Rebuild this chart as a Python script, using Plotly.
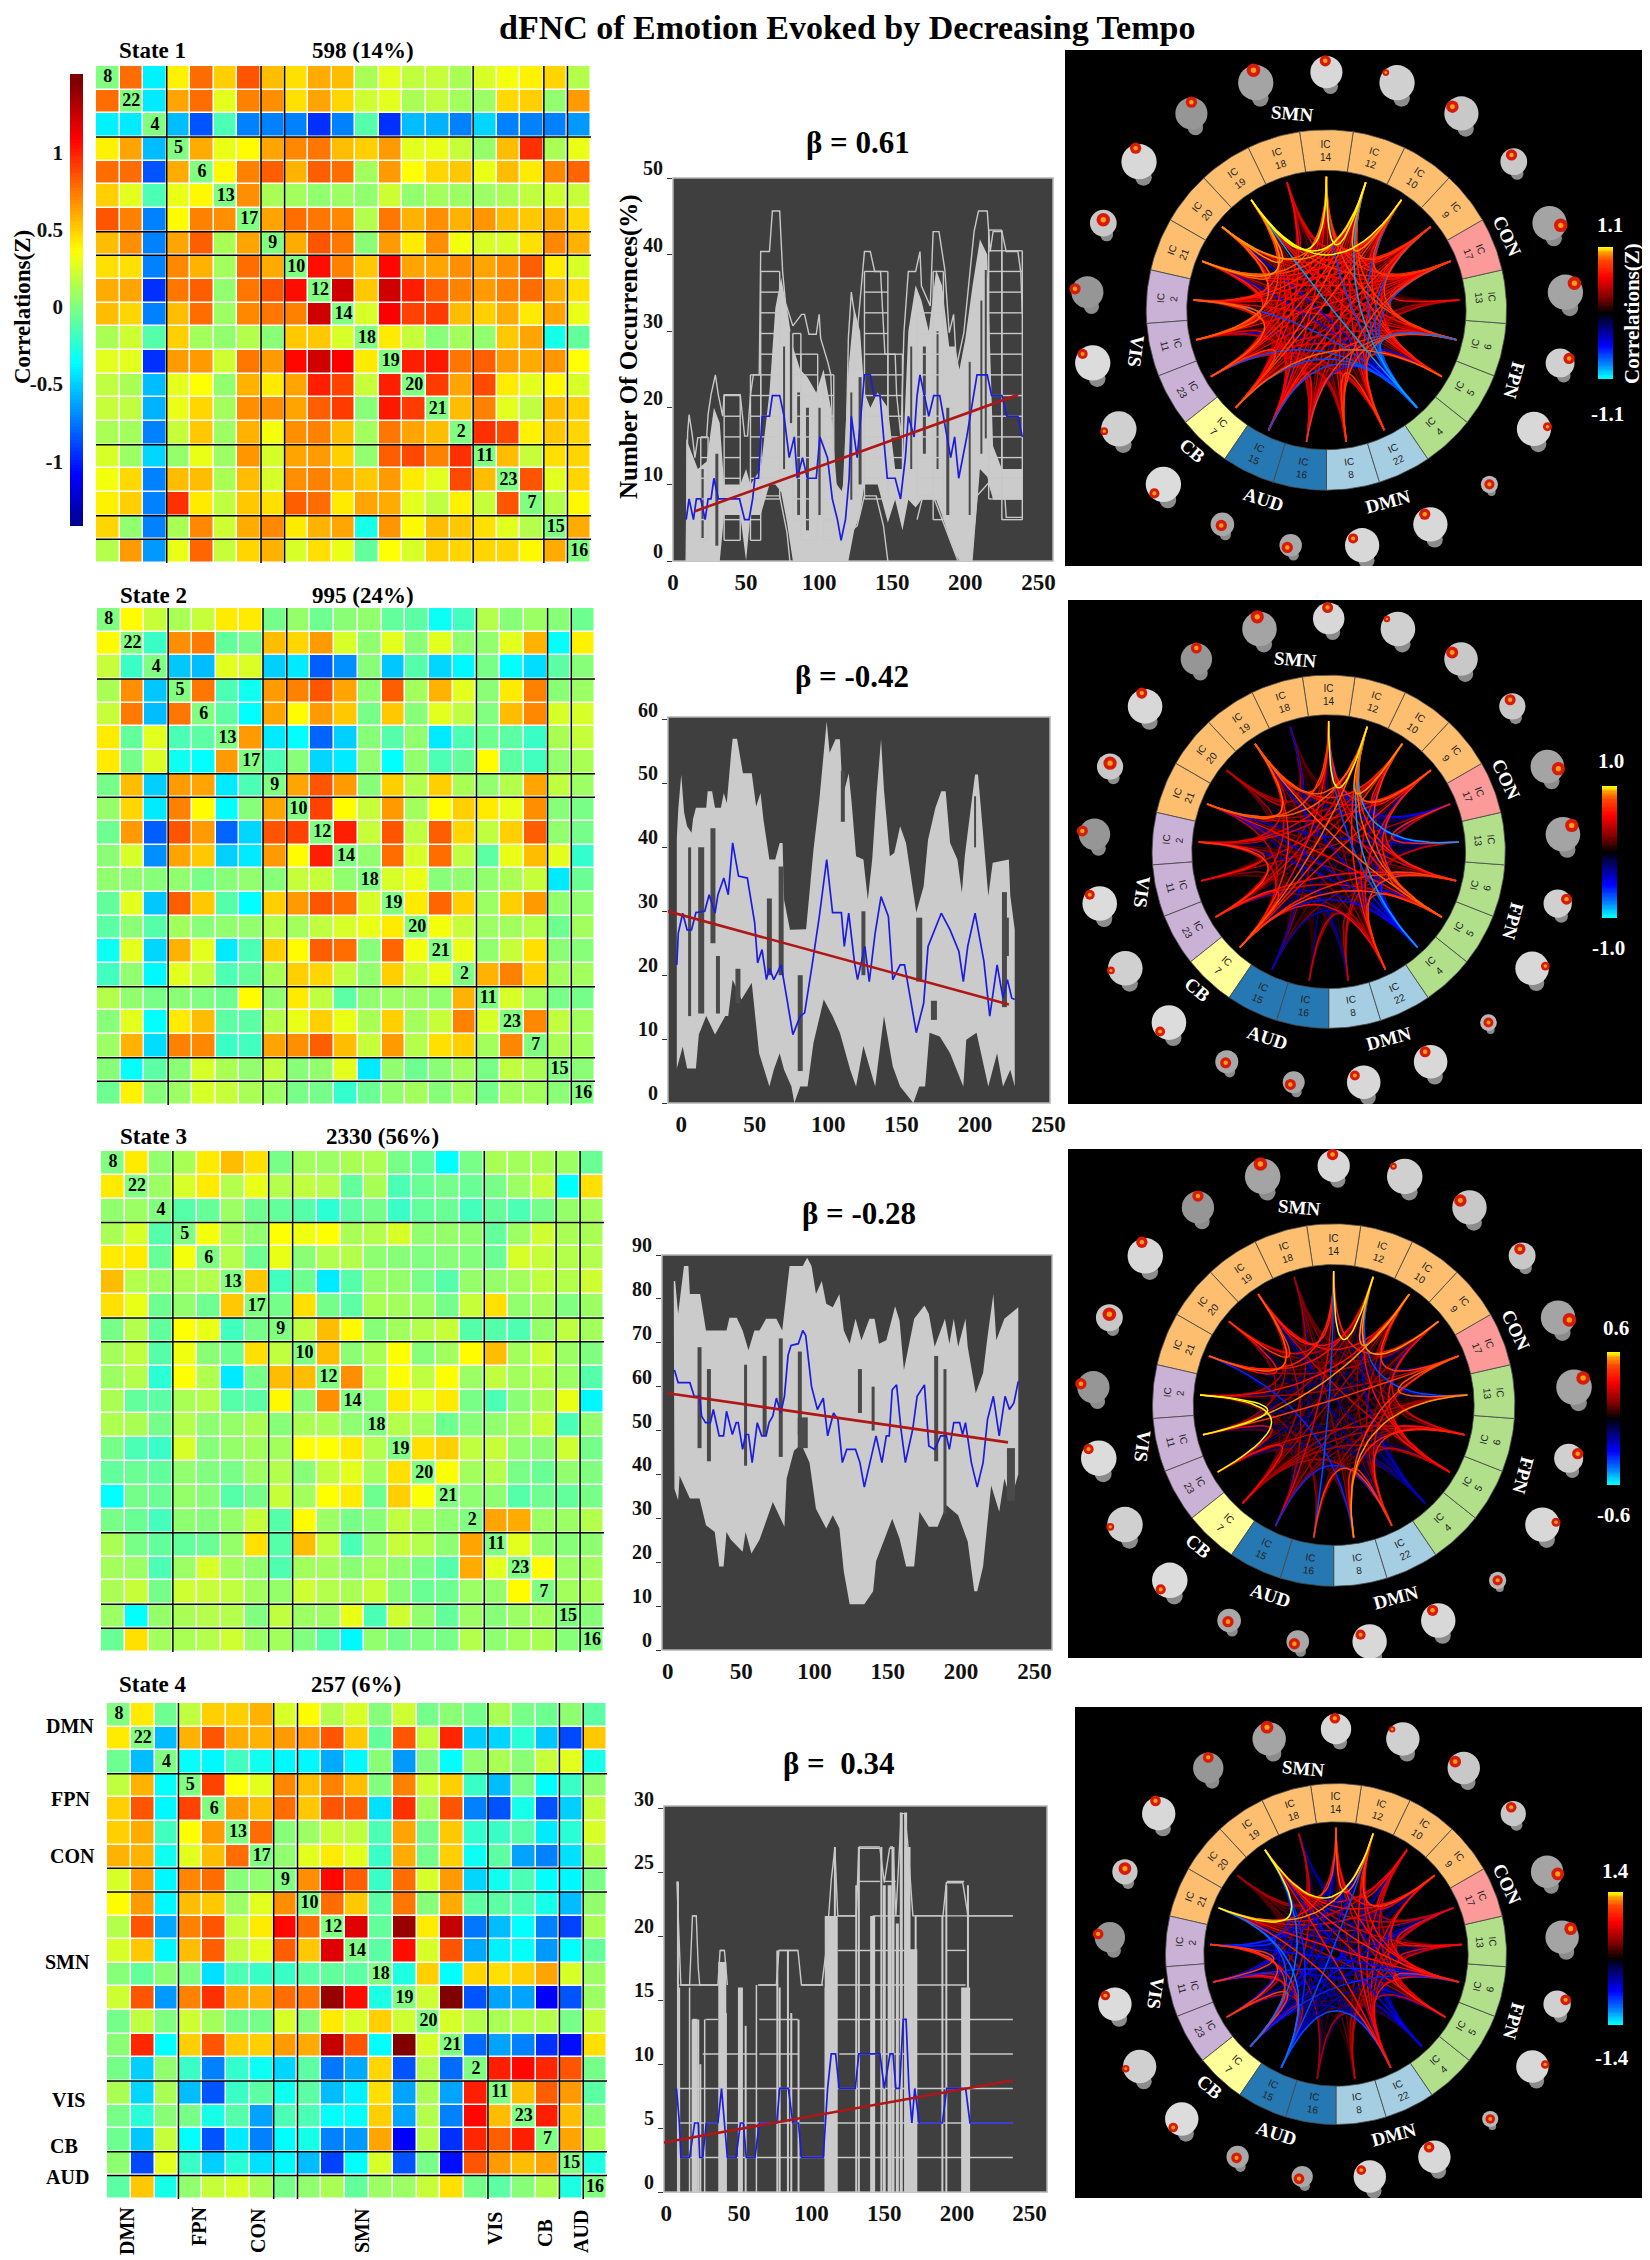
# -*- coding: utf-8 -*-
"""
dFNC of emotion evoked by decreasing tempo: four states, each with a
correlation matrix, an occurrence plot and a connectogram.
"""
import numpy as np
import plotly.graph_objects as go

W, H = 1650, 2260
PAGE_MARGIN = 8  # margen del body en la pagina que escribe plotly
FIG_W, FIG_H = W - PAGE_MARGIN, H - PAGE_MARGIN
SERIF = 'Liberation Serif'

# ---------------------------------------------------------------------------
# Data: components and networks
# ---------------------------------------------------------------------------
IC_ORDER = [8, 22, 4, 5, 6, 13, 17, 9, 10, 12, 14, 18, 19, 20, 21, 2, 11, 23, 7, 15, 16]
IC_NETWORK = ['DMN', 'DMN', 'FPN', 'FPN', 'FPN', 'FPN', 'CON', 'SMN', 'SMN', 'SMN', 'SMN',
              'SMN', 'SMN', 'SMN', 'SMN', 'VIS', 'VIS', 'VIS', 'CB', 'AUD', 'AUD']
NETWORK_COLORS = {'DMN': '#a6cee3', 'FPN': '#b2df8a', 'CON': '#fb9a99', 'SMN': '#fdbf6f',
                  'VIS': '#cab2d6', 'CB': '#ffff99', 'AUD': '#2678b2'}
GROUP_BREAKS = [2, 6, 7, 15, 18, 19]

# correlation values, upper triangle, one list per row
STATE1_UPPER = [
    [.78, -.4, .4, .78, .5, .85, .55, .45, .6, .55, .12, .28, .18, .2, .12, .25, .33, .4, .48, .15],
    [-.42, .62, .78, .28, .72, .68, .45, .62, .48, .22, .28, .12, .18, .1, .08, .47, .5, .05, .65],
    [-.55, -.85, -.15, -.72, -.72, -.72, -.95, -.72, -.12, -.95, -.55, -.58, -.72, -.48, -.72, -.72, -.72, -.65],
    [.6, .3, .37, .62, .7, .75, .55, .5, .65, .28, .3, .2, .06, .55, .95, .12, .3],
    [.38, .72, .82, .58, .82, .78, .1, .65, .36, .48, .52, .3, .55, .42, .7, .8],
    [.68, .12, .1, .05, .08, .05, .22, .05, .1, .08, .08, .12, .18, .22, .2],
    [.62, .78, .75, .7, .15, .75, .58, .68, .58, .66, .55, .52, .6, .48],
    [.6, .85, .75, .03, .65, .42, .68, .33, .25, .25, .45, .7, .58],
    [1.05, .72, .52, 1.07, .62, .62, .68, .62, .68, .82, .42, .25],
    [1.22, .52, 1.22, 1.0, .82, .72, .65, .72, .78, .58, .45],
    [.25, 1.1, .9, .92, .55, .5, .6, .42, .62, .3],
    [.42, .2, .02, .1, .05, .52, .62, -.3, -.08],
    [1.0, 1.02, .75, .82, .65, .6, .66, .36],
    [.92, .62, .88, .42, .28, .38, .25],
    [.55, .72, .28, .18, .55, .5],
    [.95, .88, .4, .52, .48],
    [.55, .2, .45, .48],
    [.85, .28, .48],
    [.15, .38],
    [.6],
]
STATE2_UPPER = [
    [.37, .2, .12, .2, .42, .42, -.03, .06, -.05, .03, .05, -.08, -.1, -.33, -.18, .15, .02, .08, .02, -.05],
    [-.2, .68, .74, -.08, -.03, .55, .48, .65, .25, .05, .28, .03, .28, .05, .05, .28, .58, -.35, .4],
    [-.52, -.55, .28, .26, -.5, -.42, -.82, -.68, .02, -.52, -.12, -.48, -.38, -.02, -.36, -.46, -.1, .02],
    [.75, -.15, -.32, .65, .72, .85, .62, .05, .82, .1, .58, .28, .03, .42, .72, .03, .08],
    [-.1, -.36, .62, .37, .65, .52, -.02, .52, .02, .28, .18, 0, .55, .7, .25, .25],
    [.65, -.42, -.36, -.8, -.5, .02, -.12, .05, -.42, -.15, -.05, -.1, -.2, .12, .2],
    [-.15, .02, -.48, -.42, .05, -.36, .05, -.15, -.08, .37, -.1, -.18, .05, .12],
    [.62, .85, .65, .02, .5, .15, .5, .12, .05, .15, .62, .18, .08],
    [.9, .37, .2, .65, .1, .37, .5, .42, .3, .68, .02, -.02],
    [1.0, .2, .85, .18, .82, .48, .18, .5, .82, .05, -.03],
    [.05, .78, .25, .78, .18, -.1, .3, .55, .28, -.22],
    [.25, .3, .02, .05, .05, .12, .2, -.42, -.06],
    [.42, .8, .5, .08, .5, .65, .05, .05],
    [.33, .2, .08, .1, .15, -.05, .1],
    [.3, .05, .2, .45, .03, .02],
    [.58, .72, .5, .1, .1],
    [.25, .1, -.02, -.03],
    [.7, .18, .1],
    [.12, .1],
    [.03],
]
STATE3_UPPER = [
    [.42, .05, .12, .42, .55, .45, -.02, .1, .08, .12, .13, -.02, -.08, -.36, -.02, .12, .1, .12, .08, -.06],
    [.08, .25, .42, .15, .3, .15, .18, .15, -.08, .12, -.15, -.06, -.03, -.06, -.02, .08, .2, -.36, .45],
    [-.12, -.07, .08, -.05, -.08, -.12, -.24, -.1, -.03, -.2, -.08, -.06, -.17, -.08, -.15, -.03, .06, .1],
    [.33, .12, .05, .36, .32, .36, .12, .15, .25, .05, .06, .04, -.08, .08, .22, .12, .12],
    [.15, -.05, .3, .03, .14, .15, .04, .02, 0, .02, .01, -.06, .25, .2, .15, .15],
    [.52, -.18, -.05, -.42, -.12, .06, .06, -.02, -.12, .06, .06, .1, .18, .15, .22],
    [-.03, .45, -.03, -.1, .12, .1, .08, -.03, .2, .45, .05, .1, 0, .08],
    [.18, .55, .38, .02, .1, .15, .2, -.12, -.12, -.14, .06, .18, .1],
    [.55, .03, .12, .36, .02, .1, .37, .55, .1, .22, .08, 0],
    [.68, .12, .36, .18, .36, .08, .18, .1, .15, .08, -.12],
    [.04, .42, .28, .42, -.02, -.15, .03, .12, .3, -.38],
    [.15, .1, -.05, .02, .05, .1, .2, -.15, .05],
    [.45, .5, .18, .2, .05, .03, .22, -.03],
    [.35, .1, .15, -.02, -.06, .05, 0],
    [.04, .04, -.12, -.05, -.08, -.02],
    [.62, .6, .08, .08, .15],
    [.28, .06, .02, .04],
    [.37, .08, .1],
    [.1, .12],
    [.02],
]
STATE4_UPPER = [
    [.42, -.05, .18, .5, .5, .58, .25, .37, .15, .25, .02, .22, -.03, .03, -.03, .12, -.02, -.05, .04, -.1],
    [-.55, .58, .85, .6, .58, .65, .65, .85, .52, -.08, .85, .18, .98, -.5, -.48, -.25, -.52, -.88, .52],
    [-.35, -.38, -.18, -.32, -.38, -.38, -.6, -.38, .03, -.65, 0, -.36, .05, .12, .03, .2, .28, -.3],
    [.9, .36, .28, .7, .55, .72, .55, 0, .72, .22, .5, -.2, -.55, -.02, -.36, -.2, .05],
    [.65, .55, .78, .52, .85, .82, -.45, .95, .1, .85, -.72, -.85, -.3, -.85, -.5, .2],
    [.78, .02, .08, .2, .18, -.15, .62, -.03, .52, -.22, -.2, -.12, -.42, -.25, .25],
    [.05, .28, .42, .28, -.2, .6, -.03, .5, -.33, -.1, -.62, -.72, -.45, .12],
    [.68, 1.07, .82, -.2, .78, .25, .65, -.48, -.32, -.15, -.36, -.38, -.02],
    [.78, .52, -.1, .75, .02, .6, -.1, -.1, -.15, -.3, -.55, .05],
    [1.18, -.08, 1.38, .42, 1.25, -.75, -.55, -.36, -.72, -.9, .12],
    [-.1, 1.05, .25, .85, -.6, -.4, -.35, -.65, -.36, -.08],
    [-.28, .5, -.36, .48, .45, .5, .62, .25, .08],
    [.22, 1.45, -.85, -.62, -.62, -1.1, -.85, .08],
    [.25, .15, .12, .15, .15, -.02, .2],
    [-.78, -.62, -.72, -.95, -1.05, .45],
    [1.0, 1.07, .98, .85, -.03],
    [.55, .82, .65, -.1],
    [1.0, .55, .02],
    [.62, .12],
    [-.28],
]

# ---------------------------------------------------------------------------
# Data: occurrence plots (mean, trend, envelope of the subject lines)
# ---------------------------------------------------------------------------
P1_BLUE_X = [9, 11, 14, 16, 19, 22, 24, 26, 28, 31, 45.5, 49, 52, 54.5, 56, 58.5, 61, 66, 68, 73, 76, 79.5, 83, 85,
             88.6, 92, 98, 100.5, 105.7, 109, 112.5, 115, 118, 120.5, 122, 124, 126, 131, 135, 137.5, 141.6, 146.6,
             152, 155.7, 159, 161, 165, 167, 169, 175, 178.4, 182.5, 187.5, 190, 192.7, 195.5, 201, 208, 215, 218,
             225, 228.4, 236, 239]
P1_BLUE_Y = [5.4, 8.1, 5.4, 8.1, 8.1, 5.4, 8.1, 8.1, 10.8, 8.1, 8.1, 5.4, 5.4, 8.1, 10.8, 10.8, 18.9, 18.9, 21.6, 21.6,
             18.9, 13.5, 16.2, 10.8, 13.5, 10.8, 10.8, 16.2, 13.5, 8.1, 5.4, 2.7, 5.4, 10.8, 18.9, 16.2, 13.5, 24.3,
             24.3, 21.6, 21.6, 10.8, 10.8, 8.1, 13.5, 18.9, 16.2, 21.6, 24.3, 18.9, 21.6, 21.6, 16.2, 13.5, 16.2,
             10.8, 16.2, 24.3, 24.3, 21.6, 21.6, 18.9, 18.9, 16.2]
P1_TREND_X, P1_TREND_Y = [15, 236], [6.5, 21.7]
P1_TOP_X = [9, 10, 11, 13, 15, 17, 23, 24, 26, 29, 31, 34, 35, 46, 49, 51, 53, 55, 59, 60, 66, 68, 73, 75, 77, 82, 88,
            90, 93, 98, 100, 101, 106, 108, 110, 115, 118, 120, 122, 124, 126, 131, 135, 138, 142, 145, 152, 153, 156,
            158, 161, 166, 169, 170, 176, 178, 182, 186, 189, 192, 194, 199, 206, 209, 215, 217, 219, 225, 228, 236,
            238, 239]
P1_TOP_Y = [0, 16.7, 19.1, 16.7, 13.5, 16.1, 16.1, 19.1, 21.7, 24.3, 21.7, 18.9, 21.7, 21.7, 16.3, 16.3, 21.7, 24.3,
            24.3, 40.4, 40.4, 45.7, 45.7, 37.8, 33.7, 30.7, 32.2, 32.2, 29.6, 29.6, 32.2, 29.1, 25.9, 24.3, 10.7, 8.5,
            10.7, 29.1, 35.1, 32.4, 29.8, 40.4, 40.4, 37.8, 37.8, 27, 27, 21.7, 16.1, 29.8, 37.8, 37.8, 40.4, 35.9,
            33.3, 43, 43, 38, 29.8, 32.2, 25.4, 29.8, 43, 45.7, 45.7, 40.4, 43, 43, 40.4, 40.4, 37.6, 32.2]
P1_LOW_X = [60, 66, 73, 78, 80, None, 120, 126, 131, 139, 144, 147, None, 167, 171, 178, 186, 189, 195, None, 204,
            208, 216, 219, 227, 228, 239]
P1_LOW_Y = [8.5, 8.5, 8.5, 3.7, 0, None, 3.7, 4.6, 8.5, 8.5, 4.6, 0, None, 5.4, 8.5, 8.5, 4.6, 3, 0, None, 0, 8.5,
            10.2, 8.5, 8.5, 5.7, 5.7]
# part of the band where the subject lines merge into solid grey
P1_CORE_X = [9, 13, 17, 23, 28, 32, 35, 46, 50, 53, 60, 66, 70, 74, 78, 82, 87, 92, 98, 103, 108, 112, 116, 120, 124,
             128, 131, 135, 140, 147, 152, 157, 161, 166, 170, 175, 180, 184, 189, 193, 196, 200, 205, 210, 215, 219,
             225, 239]
P1_CORE_HI = [16, 14, 12, 13, 20, 18, 10, 10, 12, 10, 12, 22, 33, 37, 33, 28, 25, 24, 22, 25, 20, 10, 9, 25, 33, 30,
              22, 20, 22, 20, 12, 12, 30, 36, 34, 30, 38, 36, 28, 28, 25, 29, 36, 42, 40, 15, 12, 12]
P1_CORE_LO = [0, 0, 0, 0, 0, 0, 6, 6, 0, 6, 6, 10, 10, 9, 5, 0, 0, 0, 0, 0, 0, 0, 0, 0, 4, 6, 10, 10, 10, 5, 8, 4, 8,
              7, 8, 8, 8, 6, 3, 1, 0, 0, 0, 12, 11, 8, 8, 8]
P1_DARK_X = [20, 30, 76, 81, 86, 92, 100, 122, 128, 163, 172, 181, 188, 203, 211, 214]
P1_DARK_LO = [3, 2, 12, 18, 6, 4, 6, 8, 10, 12, 14, 12, 6, 6, 14, 16]
P1_DARK_HI = [12, 14, 28, 30, 22, 20, 20, 22, 24, 28, 28, 30, 20, 26, 34, 38]
P1_DARK_W = [3, 3, 2, 3, 3, 3, 3, 2, 3, 2, 3, 2, 3, 2, 2, 2]
# x0, x1, lowest and highest level of the flat stretches
P1_ZONE_X0 = [19, 35, 53, 60, 82, 87.5, 103, 131, 147, 167, 178, 216, 225]
P1_ZONE_X1 = [24, 46, 60, 73, 87.5, 99, 110, 147, 157, 178, 185, 225, 239]
P1_ZONE_LO = [2.7, 2.7, 2.7, 8.1, 5.4, 2.7, 2.7, 8.1, 8.1, 8.1, 5.4, 8.1, 5.4]
P1_ZONE_HI = [16.2, 21.6, 24.3, 37.8, 29.7, 27, 24.3, 37.8, 27, 32.4, 37.8, 43.2, 40.5]

P2_BLUE_X = [-3, -2, 1, 4, 7, 10, 16, 19, 23, 25, 29, 32, 35, 39, 45, 50, 52, 55, 58, 60, 63, 68, 72, 76, 81, 84, 89,
             94, 99, 103, 109, 111, 114, 118, 120, 125, 128, 132, 136, 141, 144, 149, 152, 156, 160, 165, 168, 177,
             183, 189, 192, 195, 200, 206, 210, 215, 219, 222, 225, 227]
P2_BLUE_Y = [21.6, 26.6, 29.7, 27.1, 27.1, 29.8, 30, 32.6, 29.7, 32.6, 35.2, 32.6, 40.7, 35.5, 35.2, 28.2, 21.9, 24,
             19.3, 21.1, 19.3, 21.6, 16.2, 10.7, 13.6, 14.1, 21.4, 29.2, 38.1, 29.8, 29.8, 24.5, 29.7, 21.9, 19.3,
             24.5, 19, 26.6, 32.3, 29.2, 19.3, 21.6, 21.6, 16.4, 11, 15.6, 24.5, 29.7, 27.1, 23.7, 19, 24.5, 29.7,
             22.2, 13.6, 21.6, 16.4, 19.3, 16.4, 16.2]
P2_TREND_X, P2_TREND_Y = [-9, 223], [30, 15.4]
P2_TOP_X = [-3, -2, 0, 2, 4, 7, 8, 10, 17, 18, 21, 23, 27, 29, 31, 34, 35, 38, 42, 48, 51, 54, 56, 60, 64, 67, 69, 70,
            74, 85, 90, 94, 99, 101, 105, 108, 110, 114, 116, 119, 124, 127, 130, 133, 136, 138, 142, 145, 149, 153,
            158, 160, 165, 168, 173, 177, 180, 183, 188, 191, 193, 197, 200, 202, 206, 209, 212, 223, 224, 227]
P2_TOP_Y = [41.4, 46, 51.4, 45.4, 43.3, 42.3, 44.4, 46.2, 46.2, 48.8, 48.8, 46.2, 46.2, 48.5, 46.9, 54.8, 57, 57,
            51.6, 51.6, 46.4, 48.5, 44.3, 38.1, 38.1, 40.7, 40.7, 31.8, 27.1, 27.2, 39.6, 47.4, 59.7, 54.8, 56.9,
            56.9, 48, 51.6, 47, 38.6, 38.1, 31.8, 38.1, 48.5, 56.9, 49, 38.6, 39.1, 43.3, 40.7, 32.9, 29.8, 33.9,
            41.2, 46.2, 48.8, 48.8, 40.7, 38.1, 32.9, 38.6, 46, 51.4, 51.4, 40.7, 32.4, 37.6, 38.1, 32.4, 27.1]
P2_LOW_X = [-3, 1, 4, 10, 12, 17, 23, 30, 32, 35, 41, 48, 53, 60, 63, 67, 70, 75, 77, 81, 86, 90, 97, 103, 108, 115,
            119, 124, 132, 138, 144, 149, 158, 162, 166, 169, 176, 183, 192, 194, 201, 209, 215, 219, 224, 227]
P2_LOW_Y = [5.4, 8.8, 5.4, 5.4, 10.7, 13.6, 10.7, 13.6, 13.6, 19.3, 16.2, 18.8, 7.8, 2.6, 5.2, 7.8, 5.2, 2.6, 0, 2.6,
            2.6, 9.4, 16.2, 13.6, 11, 5.2, 2.6, 8.9, 2.6, 13.6, 5.7, 2.6, 0, 2.6, 2.6, 11, 10.4, 7.8, 2.6, 9.9, 11,
            2.6, 7.8, 2.6, 5.2, 2.6]
P2_DARK_X = [5.7, 13.6, 21.6, 25, 38.6, 60, 68, 81, 110, 124, 162, 172, 200, 220, 222]
P2_DARK_LO = [13.6, 14, 25, 14, 15.6, 20, 20, 5, 44, 20, 19, 13, 40, 15, 23]
P2_DARK_HI = [40, 40, 43, 23, 21, 32, 37, 20, 52, 30, 29, 16, 48, 33, 29]
P2_DARK_W = [3, 6, 5, 4, 5, 5, 5, 5, 4, 4, 6, 6, 2, 5, 3]

P3_BLUE_X = [4.5, 7, 15, 18, 21.6, 23, 25.7, 29, 31, 35, 38, 40, 44, 46.6, 48, 51, 53, 55, 57.5, 61, 64, 67, 69, 71.6,
             74, 77, 79.5, 82, 84, 89, 92, 94, 98, 102, 106, 109, 113, 116, 119, 122, 128, 131, 134, 139, 142, 146,
             149, 151, 153, 156, 159, 162, 167, 170, 175, 178, 182, 186, 190, 192, 195, 199, 201, 203, 207, 211, 215,
             218, 222, 226, 230, 233, 236, 239]
P3_BLUE_Y = [63.8, 60.9, 60.9, 57.8, 57.8, 53.3, 51.8, 51.8, 54.8, 48.8, 48.8, 54.4, 49.1, 51.8, 51.8, 45.7, 49.1,
             49.1, 42.7, 51.8, 48.8, 48.8, 51.8, 53.3, 57.4, 54, 57.8, 67.2, 69.4, 69.8, 72.8, 71.7, 60, 54.8, 57.4,
             48.8, 54, 52.5, 42.7, 45.7, 45.7, 42.7, 37.1, 44.2, 48.8, 42.7, 48.8, 48.8, 59.3, 60.4, 50.3, 42.7, 50.3,
             57.8, 60.4, 46.5, 45.7, 48.8, 48.8, 45.7, 51.8, 51.8, 49.1, 51.8, 42.7, 37.1, 42.7, 52.5, 57.8, 48.8,
             57.8, 54.8, 56.3, 61.2]
P3_TREND_X, P3_TREND_Y = [0, 232], [58.5, 47.3]
P3_TOP_X = [4, 5, 7, 11, 14, 15, 22, 26, 40, 42, 47, 51, 55, 59, 62.5, 67, 74, 78, 83, 92, 95, 98, 101, 105, 108, 112.5,
            117, 120, 124, 128, 132, 137.5, 141, 144, 149, 155, 158, 161, 168, 175, 178, 182, 189, 192, 195, 198, 203,
            204.5, 210, 215, 218, 222, 224, 229.5, 239, 239]
P3_TOP_Y = [84.1, 84.1, 76.6, 87.5, 87.5, 81.1, 81.1, 72.8, 72.8, 75.7, 75.7, 72.8, 68.3, 72.8, 72.8, 75.5, 75.5, 72.8,
            87.5, 87.5, 89.4, 87.5, 81.1, 84.1, 78.9, 78.1, 81.1, 72.8, 69.8, 75.5, 70.6, 75.5, 75.5, 69.8, 70.6, 78.3,
            75.1, 63.8, 75.5, 78.5, 76.6, 69.1, 75.5, 69.8, 75.5, 69.1, 75.5, 69.1, 58.5, 63.1, 71.3, 81.1, 70.6, 75.5,
            78.1, 87.5]
P3_LOW_X = [4.5, 7, 8, 15, 21.6, 26, 32, 35, 38, 40, 43, 51, 53, 57, 62.5, 71.6, 79.5, 81, 86, 91, 96.6, 101, 108, 112.5,
            117, 120, 124, 134, 140, 142, 153, 158, 162.5, 168, 171.6, 178, 184, 190, 198, 204.5, 209, 211, 215, 220.5,
            226, 229.5, 234, 239]
P3_LOW_Y = [36.7, 34.1, 39.7, 34.5, 34.5, 28.4, 26.9, 19, 19, 26.9, 25.1, 22.4, 26.9, 22, 25.1, 33.7, 28.1, 39, 45.4,
            46.9, 42.7, 32.2, 27.7, 30.7, 27.7, 17.9, 10.4, 10.4, 13.4, 20.2, 29.9, 25.4, 19, 19, 31.5, 28.1, 28.1, 33,
            30.7, 24.7, 13.4, 13.4, 19, 37.5, 31.5, 39, 34.1, 40.1]
P3_DARK_X = [21.6, 28, 53, 66, 77, 90, 92, 131, 140, 183, 189, 234]
P3_DARK_LO = [46, 43, 42, 49, 44, 49, 46, 54, 50, 43, 31, 34]
P3_DARK_HI = [69, 64, 65, 67, 71, 68, 53, 64, 60, 67, 64, 46]
P3_DARK_W = [4, 4, 3, 4, 4, 4, 10, 4, 3, 4, 3, 8]

P4_BLUE_X = [7, 9, 10, 16, 19.5, 22, 23, 25, 27.5, 35.5, 38, 40, 42, 48, 51, 53, 55, 61, 64, 76, 78, 84, 87, 91, 93, 108,
             111, 113.5, 116.5, 119, 130, 132.5, 147, 150, 154, 156, 158, 160.5, 163, 165, 167, 169, 171, 174, 190, 193,
             206, 209, 238.5]
P4_BLUE_Y = [8.1, 5.4, 2.7, 2.7, 5.4, 5.4, 2.7, 2.7, 5.4, 5.4, 8.1, 5.4, 2.7, 2.7, 5.4, 5.4, 2.7, 2.7, 5.4, 5.4, 8.1, 8.1,
             5.4, 5.4, 2.7, 2.7, 8.1, 10.8, 10.8, 8.1, 8.1, 10.8, 10.8, 8.1, 10.8, 10.8, 8.1, 8.1, 13.5, 13.5, 8.1, 5.4,
             8.1, 5.4, 5.4, 8.1, 8.1, 5.4, 5.4]
P4_TREND_X, P4_TREND_Y = [-5, 238.5], [3.8, 8.75]
P4_TOP_X = [7.3, 8, 9, 10, 16, 18, 20.6, 22, 23, 35.5, 37, 40, 42, None, 63, 75.7, 77.5, 90.6, 93, 107, 110, 113.5, 116,
            118, 130.7, 132.5, 147, 150, 153.7, 156, 158, 161.7, 164, 166, 169.7, 190.4, 192.7, 204, 207.6, 238.5]
P4_TOP_Y = [24.3, 22, 18.2, 16.2, 16.2, 21.6, 21.6, 17.5, 16.2, 16.2, 18.9, 18.9, 16.2, None, 16.2, 16.2, 18.9, 18.9,
            16.2, 16.2, 18.9, 24.4, 26.9, 21.6, 21.6, 26.9, 26.9, 24.2, 26.9, 26.9, 21.6, 29.6, 29.6, 27.5, 21.6, 21.6,
            24.2, 24.2, 21.6, 21.6]
P4_ZONE_X0 = [132, 150, 193, 132.5, 154, 18, 118, 142, 171, 37, 77.5, 118, 193, 9, 64, 93, 117, 172, 18, 27, 64, 117,
              25, 64, 119, 9, 9, 9]
P4_ZONE_X1 = [147, 158, 205, 147, 156, 21, 131, 162, 238.5, 40, 90.6, 164, 206, 35.5, 77, 108, 164, 206, 21, 35.5, 90.6,
              238.5, 62, 91, 238.5, 238.5, 238.5, 238.5]
P4_ZONE_LO = [24.3, 24.3, 24.3, 27, 27, 21.6, 21.6, 21.6, 21.6, 18.9, 18.9, 18.9, 18.9, 16.2, 16.2, 16.2, 16.2, 16.2,
              13.5, 13.5, 13.5, 13.5, 10.8, 10.8, 10.8, 8.1, 5.4, 2.7]
P4_ZONE_HI = P4_ZONE_LO
P4_BAR_X = [8, 9, 16, 19.5, 22, 23.4, 26.4, 38.5, 41, 51, 54.6, 62, 76.4, 78, 83.7, 86, 91, 110, 113.5, 116, 130.7, 132.5,
            142, 148, 150, 153.7, 156, 159, 161.7, 164.7, 166, 170, 171.6, 190, 192.7, 206, 207.6]
P4_BAR_LO = [0] * 37
P4_BAR_HI = [24.3, 16, 16, 13.5, 13.5, 10, 13.5, 18, 14, 16, 13, 16.2, 18.9, 16, 18.9, 14, 13.5, 16, 21.6, 27, 24, 27,
             21.6, 27, 24, 24, 27, 21, 29.7, 29.7, 27, 19, 21.6, 21.6, 24, 16, 24]
P4_BAR_W = [2, 1.5, 1.5, 6, 2, 2, 1.5, 8, 2, 5, 2, 1.5, 2, 2, 2, 2, 2, 3, 13, 2, 2, 2, 5, 2, 3, 4, 3, 3, 3, 3, 6, 8, 2, 2,
            2, 9, 2]

# ---------------------------------------------------------------------------
# Data: brain thumbnails, in the order of IC_ORDER
# ---------------------------------------------------------------------------
BRAIN_SIZE = [32, 32, 16, 32, 27, 33, 32, 25, 32, 33, 30, 33, 30, 33, 25, 30, 33, 33, 33, 22, 21]
BRAIN_COLOR = ['#d8d8d8', '#d8d8d8', '#b8b8b8', '#d8d8d8', '#d0d0d0', '#a4a4a4', '#a4a4a4', '#c8c8c8', '#c8c8c8',
               '#d0d0d0', '#d8d8d8', '#a4a4a4', '#969696', '#d8d8d8', '#c8c8c8', '#969696', '#dcdcdc', '#d0d0d0',
               '#dcdcdc', '#a8a8a8', '#a8a8a8']
SPOT_DX = [-8, -5, 0, 12, 8, 8, 10, -2, -8, -10, -1, -2, 0, -3, 0, -11, -9, -13, -8, -1, -3]
SPOT_DY = [6, 9, 0, 2, 4, 8, -2, 6, 6, 9, 10, 11, 10, 12, 3, 3, 8, -2, -8, -1, -2]
SPOT_SIZE = [9, 10, 9, 8, 10, 12, 12, 10, 11, 6, 10, 12, 10, 10, 12, 10, 9, 7, 9, 10, 10]

# ---------------------------------------------------------------------------
# Colour scales
# ---------------------------------------------------------------------------
JET = [[0, 'rgb(0,0,131)'], [.125, 'rgb(0,0,255)'], [.375, 'rgb(0,255,255)'], [.625, 'rgb(255,255,0)'],
       [.875, 'rgb(255,0,0)'], [1, 'rgb(128,0,0)']]
HOT_POS = [0, .12, .25, .42, .5, .62, .78, .9, .96, 1]
HOT_RGB = [(0, 255, 255), (0, 120, 255), (0, 0, 255), (0, 0, 90), (0, 0, 0), (130, 0, 0), (255, 0, 0), (255, 70, 0),
           (255, 150, 0), (255, 255, 0)]
HOT = [[p, f'rgb{c}'] for p, c in zip(HOT_POS, HOT_RGB)]

axis_count = 0
layout_axes = {}
annotations = []
shapes = []
fig = go.Figure()


def paper_x(px):
    return (px - PAGE_MARGIN) / FIG_W


def paper_y(py):
    return 1 - (py - PAGE_MARGIN) / FIG_H


def new_axes(left, top, right, bottom, xkw=None, ykw=None):
    """Crea un par de ejes en coordenadas de pixel de la imagen."""
    global axis_count
    axis_count += 1
    n = axis_count
    hidden = dict(visible=False, showgrid=False, zeroline=False)
    layout_axes[f'xaxis{n}'] = dict(domain=[paper_x(left), paper_x(right)], anchor=f'y{n}', **(xkw or hidden))
    layout_axes[f'yaxis{n}'] = dict(domain=[paper_y(bottom), paper_y(top)], anchor=f'x{n}', **(ykw or hidden))
    return f'x{n}', f'y{n}'


def label(x, y, text, size, color='black', angle=0, bold=True, family=SERIF):
    annotations.append(dict(x=paper_x(x), y=paper_y(y), xref='paper', yref='paper', text=text, showarrow=False,
                            textangle=angle, xanchor='center', yanchor='middle',
                            font=dict(family=family, size=size, color=color, weight=700 if bold else 400)))


def bg_rect(left, top, right, bottom, color, border=None):
    shapes.append(dict(type='rect', xref='paper', yref='paper', layer='below', x0=paper_x(left), x1=paper_x(right),
                       y0=paper_y(bottom), y1=paper_y(top), fillcolor=color,
                       line=dict(color=border or color, width=1.5 if border else 0)))


def matrix_from_upper(upper):
    m = np.zeros((len(IC_ORDER), len(IC_ORDER)))
    for i, row in enumerate(upper):
        m[i, i + 1:] = row
        m[i + 1:, i] = row
    return m


# ---------------------------------------------------------------------------
# Matrices
# ---------------------------------------------------------------------------
def add_matrix(matrix, left, top, right, bottom):
    xa, ya = new_axes(left, top, right, bottom,
                      dict(visible=False, range=[-.5, 20.5]),
                      dict(visible=False, range=[20.5, -.5]))
    n = len(IC_ORDER)
    fig.add_trace(go.Heatmap(z=matrix, x=list(range(n)), y=list(range(n)), colorscale=JET, zmin=-1.45, zmax=1.45,
                             xgap=1.5, ygap=1.5, showscale=False, hoverinfo='skip', xaxis=xa, yaxis=ya))
    lx, ly = [], []
    for b in GROUP_BREAKS:
        lx += [b + .5, b + .5, None, -.5, 20.5, None]
        ly += [-.5, 20.5, None, b + .5, b + .5, None]
    fig.add_trace(go.Scatter(x=lx, y=ly, mode='lines', line=dict(color='black', width=1.5),
                             showlegend=False, hoverinfo='skip', xaxis=xa, yaxis=ya))
    fig.add_trace(go.Scatter(x=list(range(n)), y=list(range(n)), mode='text', text=[str(i) for i in IC_ORDER],
                             textfont=dict(family=SERIF, size=18, color='black', weight=700),
                             showlegend=False, hoverinfo='skip', xaxis=xa, yaxis=ya))


# ---------------------------------------------------------------------------
# Occurrence plots
# ---------------------------------------------------------------------------
def occurrence_axes(box, x_range, y_range, y_ticks):
    left, top_px, right, bottom = box
    bg_rect(left, top_px, right, bottom, '#3f3f3f', '#b4b4b4')
    return new_axes(left, top_px, right, bottom,
                    dict(range=x_range, tickvals=[0, 50, 100, 150, 200, 250], showgrid=False, zeroline=False,
                         ticks='', ticklabelstandoff=5,
                         tickfont=dict(family=SERIF, size=23, color='#111', weight=700)),
                    dict(range=y_range, tickvals=y_ticks, showgrid=False, zeroline=False, ticks='outside',
                         ticklen=5, tickcolor='#333', ticklabelshift=-10, ticklabelstandoff=0,
                         tickfont=dict(family=SERIF, size=20, color='#111', weight=700)))


def line(xa, ya, xs, ys, color='#c8c8c8', width=1.4):
    fig.add_trace(go.Scatter(x=xs, y=ys, mode='lines', line=dict(color=color, width=width),
                             showlegend=False, hoverinfo='skip', xaxis=xa, yaxis=ya))


def polygon(xa, ya, xs, ys):
    fig.add_trace(go.Scatter(x=xs, y=ys, mode='none', fill='toself', fillcolor='#cbcbcb',
                             showlegend=False, hoverinfo='skip', xaxis=xa, yaxis=ya))


def add_occurrence(box, x_range, y_range, y_ticks, blue, trend, top, low=None, core=None, dark=None, zones=None,
                   bars=None, step=2.7):
    xa, ya = occurrence_axes(box, x_range, y_range, y_ticks)
    if core:
        polygon(xa, ya, list(core[0]) + list(core[0])[::-1], list(core[1]) + list(core[2])[::-1])
    if dark:
        for x, lo, hi, w in zip(*dark):
            line(xa, ya, [x, x], [lo, hi], '#4a4a4a', w)
    zx, zy = [], []
    for x0, x1, lo, hi in zip(*zones):
        levels = np.arange(round(lo / step), round(hi / step) + 1) * step
        for lev in levels:
            zx += [x0, x1, None]
            zy += [lev, lev, None]
        if hi > lo:
            zx += [x0, x0, None, x1, x1, None]
            zy += [levels[0], levels[-1], None, levels[0], levels[-1], None]
    line(xa, ya, zx, zy)
    if bars:
        for x, lo, hi, w in zip(*bars):
            line(xa, ya, [x, x], [lo, hi], '#cbcbcb', w)
    line(xa, ya, top[0], top[1])
    if low:
        line(xa, ya, low[0], low[1])
    line(xa, ya, blue[0], blue[1], '#1c1ce0', 1.7)
    line(xa, ya, trend[0], trend[1], '#b01616', 2.6)


def add_solid_band(box, x_range, y_range, y_ticks, blue, trend, top, low, dark):
    """Banda cerrada entre envolvente superior e inferior (paneles 2 y 3)."""
    xa, ya = occurrence_axes(box, x_range, y_range, y_ticks)
    polygon(xa, ya, list(top[0]) + list(low[0])[::-1], list(top[1]) + list(low[1])[::-1])
    for x, lo, hi, w in zip(*dark):
        line(xa, ya, [x, x], [lo, hi], '#4a4a4a', w)
    line(xa, ya, blue[0], blue[1], '#1c1ce0', 1.7)
    line(xa, ya, trend[0], trend[1], '#b01616', 2.6)


# ---------------------------------------------------------------------------
# Connectograms
# ---------------------------------------------------------------------------
def hot_color(v):
    t = (np.clip(v, -1, 1) + 1) / 2
    r, g, b = [int(np.interp(t, HOT_POS, [c[k] for c in HOT_RGB])) for k in range(3)]
    return f'rgb({r},{g},{b})'


def add_ring(matrix, limit, rect, center, radius, bar_box, limit_labels):
    left, top, right, bottom = rect
    cx, cy = center
    bg_rect(left, top, right, bottom, 'black')
    xa, ya = new_axes(left, top, right, bottom,
                      dict(visible=False, range=[(left - cx) / radius, (right - cx) / radius]),
                      dict(visible=False, range=[(cy - bottom) / radius, (cy - top) / radius]))
    n = len(IC_ORDER)
    width = 2 * np.pi / n
    start = np.deg2rad(270)
    scale = radius / 160

    for i, net in enumerate(IC_NETWORK):
        t = np.linspace(start + i * width, start + (i + 1) * width, 16)
        xs = np.concatenate([np.cos(t), .775 * np.cos(t[::-1])])
        ys = np.concatenate([np.sin(t), .775 * np.sin(t[::-1])])
        fig.add_trace(go.Scatter(x=np.append(xs, xs[0]), y=np.append(ys, ys[0]), mode='lines', fill='toself',
                                 fillcolor=NETWORK_COLORS[net], line=dict(color='#4a4a4a', width=.8),
                                 showlegend=False, hoverinfo='skip', xaxis=xa, yaxis=ya))
        mid = start + (i + .5) * width
        cw = (90 - np.rad2deg(mid)) % 360
        rot = cw - 180 if 90 < cw < 270 else (cw - 360 if cw >= 270 else cw)
        label(cx + .885 * radius * np.cos(mid), cy - .885 * radius * np.sin(mid), f'IC<br>{IC_ORDER[i]}', 10, '#222',
              rot, False, 'Liberation Sans')

    # enlaces: curvas hacia el centro, agrupadas por color
    angles = start + (np.arange(n) + .5) * width
    px, py = .74 * np.cos(angles), .74 * np.sin(angles)
    u = np.linspace(0, 1, 25)
    a, b = (1 - u) ** 2, u ** 2
    pairs = sorted(((abs(matrix[i, j]), i, j) for i in range(n) for j in range(i + 1, n)))
    bins = {}
    for _, i, j in pairs:
        v = matrix[i, j] / limit
        key = round(float(np.clip(v, -1, 1)) * 12)
        bins.setdefault(key, []).append((i, j))
    for key in sorted(bins, key=abs):
        xs, ys = [], []
        for i, j in bins[key]:
            xs += list(a * px[i] + b * px[j]) + [None]
            ys += list(a * py[i] + b * py[j]) + [None]
        fig.add_trace(go.Scatter(x=xs, y=ys, mode='lines', line=dict(color=hot_color(key / 12), width=1.5),
                                 showlegend=False, hoverinfo='skip', xaxis=xa, yaxis=ya))

    # miniaturas: hemisferio, tronco y zona activa
    bx, by = 1.33 * np.cos(angles), 1.32 * np.sin(angles)
    sizes = np.array(BRAIN_SIZE) * scale
    spots = np.array(SPOT_SIZE) * scale
    fig.add_trace(go.Scatter(x=bx + sizes * .12 / radius, y=by - sizes * .42 / radius, mode='markers',
                             marker=dict(size=sizes * .45, color='#8c8c8c', opacity=1, line=dict(width=0)),
                             showlegend=False, hoverinfo='skip', xaxis=xa, yaxis=ya))
    fig.add_trace(go.Scatter(x=bx, y=by, mode='markers',
                             marker=dict(size=sizes * .95, color=BRAIN_COLOR, opacity=1, line=dict(width=0)),
                             showlegend=False, hoverinfo='skip', xaxis=xa, yaxis=ya))
    sx = bx + np.array(SPOT_DX) * scale / radius
    sy = by + np.array(SPOT_DY) * scale / radius
    fig.add_trace(go.Scatter(x=sx, y=sy, mode='markers',
                             marker=dict(size=spots, color='#d81a0c', opacity=1, line=dict(width=0)),
                             showlegend=False, hoverinfo='skip', xaxis=xa, yaxis=ya))
    fig.add_trace(go.Scatter(x=sx, y=sy, mode='markers',
                             marker=dict(size=spots * .4, color='#ffa010', opacity=1, line=dict(width=0)),
                             showlegend=False, hoverinfo='skip', xaxis=xa, yaxis=ya))

    # etiquetas de red
    for text, ux, uy, rot in [('SMN', -.19, 1.09, 5), ('CON', 1.006, .41, 65), ('FPN', 1.044, -.39, 105),
                              ('VIS', -1.056, -.23, 98), ('CB', -.744, -.78, 40), ('AUD', -.348, -1.05, 18),
                              ('DMN', .342, -1.06, -15)]:
        label(cx + ux * radius, cy - uy * radius, text, 19, 'white', rot)

    bl, bt, br, bb = bar_box
    xb, yb = new_axes(bl, bt, br, bb)
    levels = np.linspace(-limit, limit, 101)
    fig.add_trace(go.Heatmap(z=levels[:, None], y=levels, x=[0], colorscale=HOT, zmin=-limit, zmax=limit,
                             showscale=False, hoverinfo='skip', xaxis=xb, yaxis=yb))
    hi_text, lo_text = limit_labels
    label(hi_text[0], hi_text[1], hi_text[2], 21, 'white')
    label(lo_text[0], lo_text[1], lo_text[2], 21, 'white')


# ---------------------------------------------------------------------------
# Figure
# ---------------------------------------------------------------------------
matrices = [matrix_from_upper(u) for u in (STATE1_UPPER, STATE2_UPPER, STATE3_UPPER, STATE4_UPPER)]

add_matrix(matrices[0], 96, 66, 591, 563)
add_matrix(matrices[1], 97, 608, 595, 1105)
add_matrix(matrices[2], 101, 1151, 604, 1652)
add_matrix(matrices[3], 107, 1703, 607, 2199)

# barra de color de las matrices
xc, yc = new_axes(70, 74, 83, 526, None,
                  dict(visible=True, side='left', range=[-1.42, 1.51], tickvals=[-1, -.5, 0, .5, 1],
                       ticktext=['-1', '-0.5', '0', '0.5', '1'], showgrid=False, zeroline=False, ticks='',
                       showline=False, ticklabelstandoff=6,
                       tickfont=dict(family=SERIF, size=21, color='#111', weight=700)))
jet_levels = np.linspace(-1.42, 1.51, 161)
fig.add_trace(go.Heatmap(z=jet_levels[:, None], y=jet_levels, x=[0], colorscale=JET, zmin=-1.45, zmax=1.45,
                         showscale=False, hoverinfo='skip', xaxis=xc, yaxis=yc))

add_occurrence((673, 178, 1053, 561), [0, 260], [0, 50], [0, 10, 20, 30, 40, 50],
               (P1_BLUE_X, P1_BLUE_Y), (P1_TREND_X, P1_TREND_Y), (P1_TOP_X, P1_TOP_Y), (P1_LOW_X, P1_LOW_Y),
               core=(P1_CORE_X, P1_CORE_HI, P1_CORE_LO), dark=(P1_DARK_X, P1_DARK_LO, P1_DARK_HI, P1_DARK_W),
               zones=(P1_ZONE_X0, P1_ZONE_X1, P1_ZONE_LO, P1_ZONE_HI))
add_solid_band((668, 717, 1050, 1103), [-9, 251], [0, 60.4], [0, 10, 20, 30, 40, 50, 60],
               (P2_BLUE_X, P2_BLUE_Y), (P2_TREND_X, P2_TREND_Y), (P2_TOP_X, P2_TOP_Y), (P2_LOW_X, P2_LOW_Y),
               (P2_DARK_X, P2_DARK_LO, P2_DARK_HI, P2_DARK_W))
add_solid_band((662, 1255, 1052, 1650), [-4, 262], [0, 90], [0, 10, 20, 30, 40, 50, 60, 70, 80, 90],
               (P3_BLUE_X, P3_BLUE_Y), (P3_TREND_X, P3_TREND_Y), (P3_TOP_X, P3_TOP_Y), (P3_LOW_X, P3_LOW_Y),
               (P3_DARK_X, P3_DARK_LO, P3_DARK_HI, P3_DARK_W))
add_occurrence((664, 1806, 1047, 2192), [-1.6, 262], [0, 30.2], [0, 5, 10, 15, 20, 25, 30],
               (P4_BLUE_X, P4_BLUE_Y), (P4_TREND_X, P4_TREND_Y), (P4_TOP_X, P4_TOP_Y),
               zones=(P4_ZONE_X0, P4_ZONE_X1, P4_ZONE_LO, P4_ZONE_HI), bars=(P4_BAR_X, P4_BAR_LO, P4_BAR_HI, P4_BAR_W))

add_ring(matrices[0], 1.1, (1065, 50, 1648, 566), (1326.4, 310), 180.2, (1598, 247, 1613, 379),
         ((1610, 225, '1.1'), (1607, 414, '-1.1')))
add_ring(matrices[1], 1.0, (1068, 600, 1647, 1104), (1328.7, 851.7), 176.6, (1602, 786, 1617, 918),
         ((1611, 761, '1.0'), (1608, 948, '-1.0')))
add_ring(matrices[2], 0.6, (1068, 1149, 1648, 1658), (1333.7, 1405), 181.2, (1607, 1352, 1620, 1485),
         ((1616, 1328, '0.6'), (1613, 1515, '-0.6')))
add_ring(matrices[3], 1.4, (1075, 1707, 1648, 2198), (1336, 1954), 170.5, (1608, 1892, 1623, 2025),
         ((1615, 1871, '1.4'), (1612, 2058, '-1.4')))

# textos
label(847, 27, 'dFNC of Emotion Evoked by Decreasing Tempo', 34)
label(22, 307, 'Correlations(Z)', 23, angle=-90)
label(629, 347, 'Number Of Occurrences(%)', 25, angle=-90)
label(1632, 314, 'Correlations(Z)', 21, 'white', -90)

for text, x, y in [('State 1', 152, 51), ('598 (14%)', 363, 51), ('State 2', 153, 595), ('995 (24%)', 363, 595),
                   ('State 3', 153, 1136), ('2330 (56%)', 382, 1136), ('State 4', 153, 1684), ('257 (6%)', 356, 1684)]:
    label(x, y, text, 23)

for text, x, y in [('β = 0.61', 858, 142), ('β = -0.42', 852, 677), ('β = -0.28', 859, 1213), ('β =  0.34', 839, 1763)]:
    label(x, y, text, 31)

for text, x, y in [('DMN', 70, 1726), ('FPN', 70, 1799), ('CON', 72, 1856), ('SMN', 67, 1962), ('VIS', 68, 2100),
                   ('CB', 64, 2146), ('AUD', 67, 2177)]:
    label(x, y, text, 20)
for text, x, y in [('DMN', 127, 2231), ('FPN', 199, 2227), ('CON', 258, 2231), ('SMN', 362, 2231), ('VIS', 495, 2229),
                   ('CB', 545, 2233), ('AUD', 581, 2232)]:
    label(x, y, text, 20, angle=-90)

fig.update_layout(width=FIG_W, height=FIG_H, autosize=False,
                  margin=dict(l=0, r=0, t=0, b=0, autoexpand=False), paper_bgcolor='white',
                  plot_bgcolor='rgba(0,0,0,0)', showlegend=False, annotations=annotations, shapes=shapes,
                  **layout_axes)

fig.write_html("out.html")
